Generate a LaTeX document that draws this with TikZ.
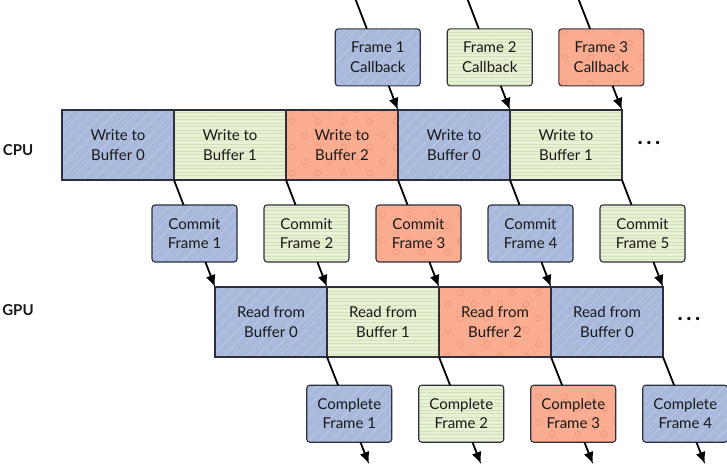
\documentclass[tikz,border=0pt]{standalone}
\usepackage{fontspec}
\setmainfont{Lato}
\usetikzlibrary{arrows.meta,calc,patterns,patterns.meta}

\definecolor{bufblue}{RGB}{168,185,220}
\definecolor{bufgreen}{RGB}{232,241,212}
\definecolor{buforange}{RGB}{249,172,144}
\definecolor{blueline}{RGB}{192,204,232}
\definecolor{greenline}{RGB}{210,224,186}
\definecolor{orangering}{RGB}{234,148,120}
\definecolor{edgegray}{RGB}{45,47,60}

\pgfdeclarepatternformonly{rings}{\pgfqpoint{0pt}{0pt}}{\pgfqpoint{26pt}{26pt}}{\pgfqpoint{26pt}{26pt}}{
  \pgfsetlinewidth{0.6pt}
  \pgfpathcircle{\pgfqpoint{6pt}{7pt}}{3pt}
  \pgfpathcircle{\pgfqpoint{19pt}{19pt}}{3pt}
  \pgfusepath{stroke}}

\begin{document}
\begin{tikzpicture}[x=1pt,y=-1pt]
    \tikzset{cell/.style = {draw=edgegray, line width=1.1pt, minimum width=112pt, minimum height=70pt,
        inner sep=0pt, outer sep=0pt, align=center, text=black!90, font=\fontsize{15}{19.5}\selectfont}}
    \tikzset{box/.style = {cell, rounded corners=3pt, minimum width=85pt, minimum height=57pt}}
    \tikzset{buf0/.style = {preaction={fill=bufblue}, pattern={Lines[angle=45,distance=8pt,line width=0.6pt]}, pattern color=blueline}}
    \tikzset{buf1/.style = {preaction={fill=bufgreen}, pattern={Lines[angle=0,distance=3.5pt,line width=0.45pt]}, pattern color=greenline}}
    \tikzset{buf2/.style = {preaction={fill=buforange}, pattern=rings, pattern color=orangering}}
    \tikzset{unit/.style = {font=\fontsize{15}{15}\selectfont\bfseries, text=black!90}}
    \tikzset{more/.style = {font=\fontsize{22}{22}\selectfont\bfseries}}
    \tikzset{link/.style = {line width=1.8pt}}
    \tikzset{edge/.style = {-{Latex[length=12pt,width=10pt]}, line width=1.8pt}}
    \useasboundingbox (0,0) rectangle (727,466);
    % processors
    \node[unit] (cpu) at (18,150) {CPU};
    \node[unit] (gpu) at (18,310) {GPU};
    % cpu cells
    \node[cell,buf0] (c1) at (118,145) {Write to\\Buffer 0};
    \node[cell,buf1] (c2) at (230,145) {Write to\\Buffer 1};
    \node[cell,buf2] (c3) at (342,145) {Write to\\Buffer 2};
    \node[cell,buf0] (c4) at (454,145) {Write to\\Buffer 0};
    \node[cell,buf1] (c5) at (566,145) {Write to\\Buffer 1};
    \node[more] (cpumore) at (649,143) {.\hspace{3.5pt}.\hspace{3.5pt}.};
    % gpu cells
    \node[cell,buf0] (g1) at (271,322) {Read from\\Buffer 0};
    \node[cell,buf1] (g2) at (383,322) {Read from\\Buffer 1};
    \node[cell,buf2] (g3) at (495,322) {Read from\\Buffer 2};
    \node[cell,buf0] (g4) at (607,322) {Read from\\Buffer 0};
    \node[more] (gpumore) at (689,319) {.\hspace{3.5pt}.\hspace{3.5pt}.};
    % free ends
    \coordinate (t1) at (355,-2);
    \coordinate (t2) at (467,-2);
    \coordinate (t3) at (578,-2);
    \coordinate (b1) at ($(g1.south east)+(42,107)$);
    \coordinate (b2) at ($(g2.south east)+(42,107)$);
    \coordinate (b3) at ($(g3.south east)+(42,107)$);
    \coordinate (b4) at ($(g4.south east)+(42,107)$);
    % callbacks
    \node[box,buf0] (cb1) at ($(t1)!0.53!(c4.north west)$) {Frame 1\\Callback};
    \node[box,buf1] (cb2) at ($(t2)!0.53!(c5.north west)$) {Frame 2\\Callback};
    \node[box,buf2] (cb3) at ($(t3)!0.53!(c5.north east)$) {Frame 3\\Callback};
    % commits
    \node[box,buf0] (cm1) at ($(c1.south east)!0.5!(g1.north west)$) {Commit\\Frame 1};
    \node[box,buf1] (cm2) at ($(c2.south east)!0.5!(g2.north west)$) {Commit\\Frame 2};
    \node[box,buf2] (cm3) at ($(c3.south east)!0.5!(g3.north west)$) {Commit\\Frame 3};
    \node[box,buf0] (cm4) at ($(c4.south east)!0.5!(g4.north west)$) {Commit\\Frame 4};
    \node[box,buf1] (cm5) at ($(c5.south east)!0.5!(g4.north east)$) {Commit\\Frame 5};
    % completions
    \node[box,buf0] (cp1) at ($(g1.south east)!0.53!(b1)$) {Complete\\Frame 1};
    \node[box,buf1] (cp2) at ($(g2.south east)!0.53!(b2)$) {Complete\\Frame 2};
    \node[box,buf2] (cp3) at ($(g3.south east)!0.53!(b3)$) {Complete\\Frame 3};
    \node[box,buf0] (cp4) at ($(g4.south east)!0.53!(b4)$) {Complete\\Frame 4};
    % edges
    \draw[link] (t1) -- (cb1);
    \draw[link] (t2) -- (cb2);
    \draw[link] (t3) -- (cb3);
    \draw[edge] (cb1) -- (c4.north west);
    \draw[edge] (cb2) -- (c5.north west);
    \draw[edge] (cb3) -- (c5.north east);
    \draw[link] (c1.south east) -- (cm1);
    \draw[link] (c2.south east) -- (cm2);
    \draw[link] (c3.south east) -- (cm3);
    \draw[link] (c4.south east) -- (cm4);
    \draw[link] (c5.south east) -- (cm5);
    \draw[edge] (cm1) -- (g1.north west);
    \draw[edge] (cm2) -- (g2.north west);
    \draw[edge] (cm3) -- (g3.north west);
    \draw[edge] (cm4) -- (g4.north west);
    \draw[edge] (cm5) -- (g4.north east);
    \draw[link] (g1.south east) -- (cp1);
    \draw[link] (g2.south east) -- (cp2);
    \draw[link] (g3.south east) -- (cp3);
    \draw[link] (g4.south east) -- (cp4);
    \draw[edge] (cp1) -- (b1);
    \draw[edge] (cp2) -- (b2);
    \draw[edge] (cp3) -- (b3);
    \draw[edge] (cp4) -- (b4);
\end{tikzpicture}
\end{document}
